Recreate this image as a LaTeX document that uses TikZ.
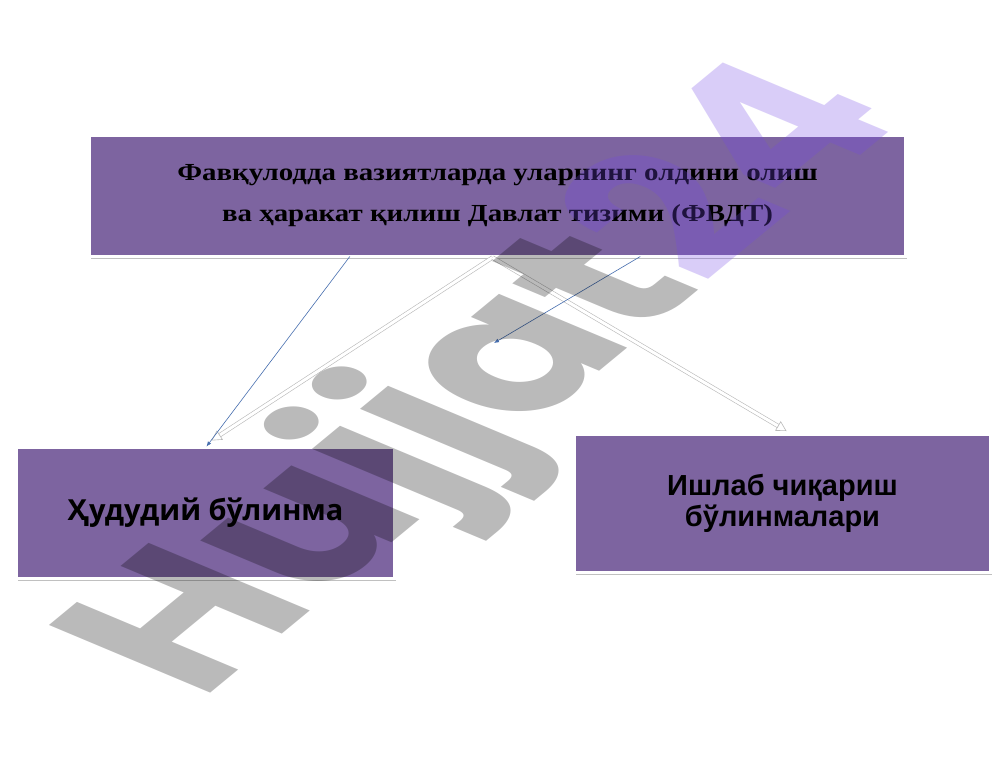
\documentclass[tikz,border=0pt]{standalone}
\usepackage{fontspec}
\setmainfont{Liberation Serif}
\newfontfamily\topf{Liberation Serif}[FakeStretch=1.18]
\newfontfamily\arialf{Liberation Sans}
\newfontfamily\opensf{Open Sans}
\newfontfamily\popf{Poppins}
\usetikzlibrary{arrows.meta,shadows,calc}
\definecolor{boxpurple}{RGB}{125,100,160}
\definecolor{wmpurple}{RGB}{116,73,230}
\definecolor{linkblue}{RGB}{70,110,175}
\tikzset{
  pbox/.style={fill=boxpurple, draw=white, line width=3pt, inner sep=0pt, outer sep=0pt,
    drop shadow={shadow xshift=1.5pt, shadow yshift=-2.5pt, opacity=0.35, fill=black!70}},
  hollow/.style={draw=gray!55, line width=0.6pt, double=white, double distance=3pt,
    -{Triangle[open, length=10pt, width=11pt]}},
  thinlink/.style={draw=linkblue, line width=0.6pt, -{Latex[length=5pt, width=4pt]}},
  wm/.style={transform shape, inner sep=0pt, text opacity=0.27,
    font=\popf\bfseries\fontsize{166}{166}\selectfont}
}
\begin{document}
\begin{tikzpicture}[x=1pt, y=-1pt]
\useasboundingbox (0,0) rectangle (1008,756);
\fill[white] (0,0) rectangle (1008,756);

\node[pbox, minimum width=816pt, minimum height=121pt, align=center,
  font=\topf\bfseries\fontsize{24.5}{41}\selectfont] (top) at (497.5,196)
  {Фавқулодда вазиятларда уларнинг олдини олиш\\ва ҳаракат қилиш Давлат тизими (ФВДТ)};

\node[pbox, minimum width=378pt, minimum height=131pt,
  font=\opensf\bfseries\fontsize{29}{32}\selectfont] (left) at (205.5,513)
  {Ҳудудий бўлинма};

\node[pbox, minimum width=416pt, minimum height=138pt, align=center,
  font=\arialf\bfseries\fontsize{29}{31}\selectfont] (right) at (782.5,503)
  {Ишлаб чиқариш\\бўлинмалари};

\coordinate (mid) at (494,343);
\draw[hollow] ($(top.south)+(-5,1)$) -- ($(left.north)+(6,-7)$);
\draw[hollow] ($(top.south)+(-5,1)$) -- ($(right.north)+(4,-3)$);
\draw[thinlink] ($(top.south west)!0.319!(top.south east)$) -- ($(left.north)+(1,-1)$);
\draw[thinlink] ($(top.south west)!0.675!(top.south east)$) -- (mid);

\begin{scope}[shift={(493,383)}, xscale=1.7, rotate=54.5]
\node[wm] (mark) at (0,0) {Hujjat\textcolor{wmpurple}{24}};
\end{scope}
\end{tikzpicture}
\end{document}
